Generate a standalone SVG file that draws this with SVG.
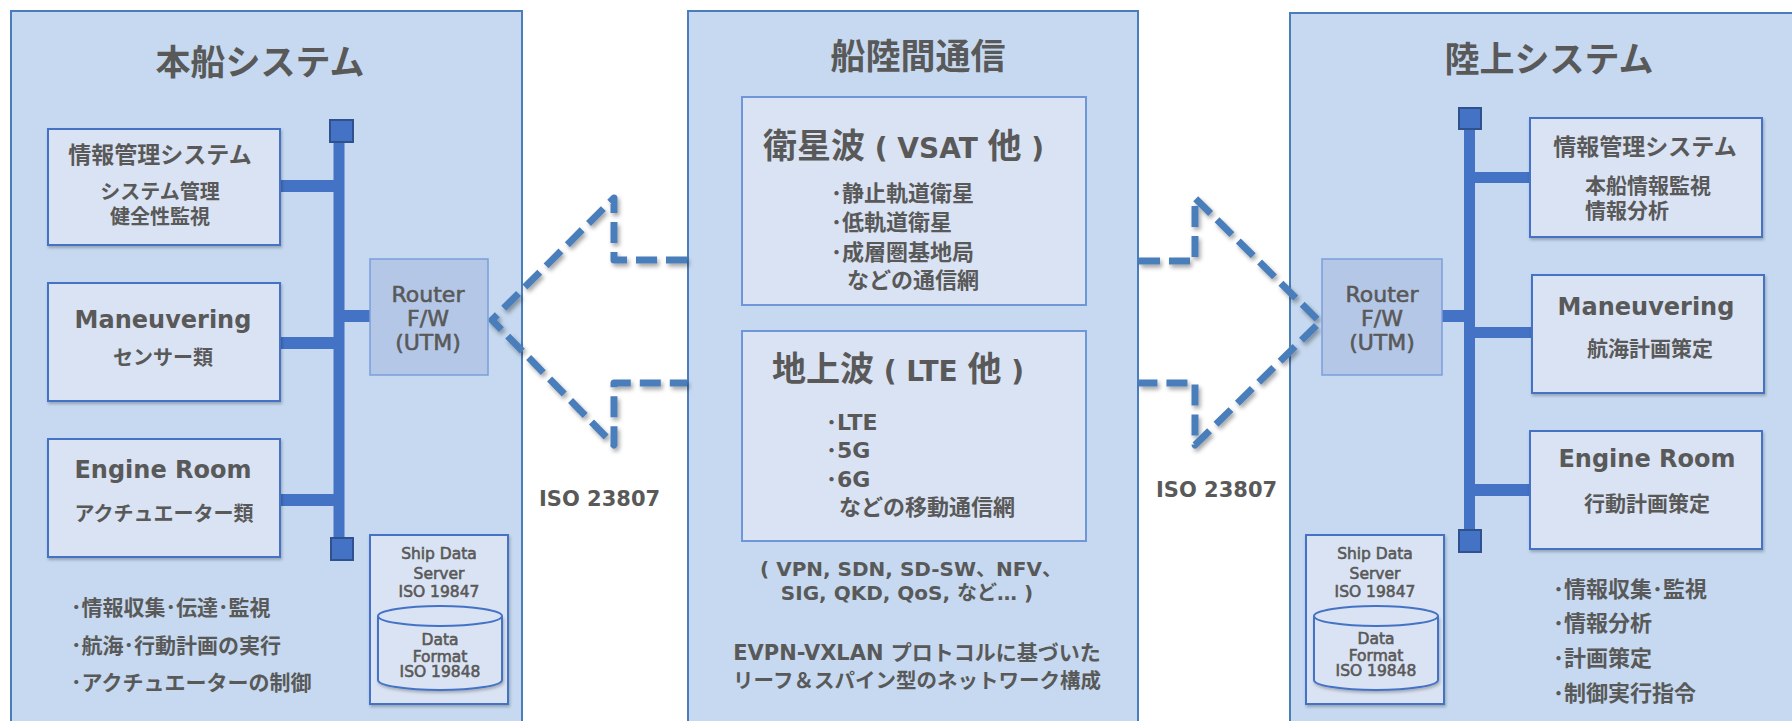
<svg xmlns="http://www.w3.org/2000/svg" width="1792" height="721" viewBox="0 0 1792 721">
<defs>
<filter id="sh" x="-10%" y="-10%" width="130%" height="130%">
<feDropShadow dx="2" dy="3" stdDeviation="2" flood-color="#000" flood-opacity="0.35"/>
</filter>
<filter id="bsh" x="-5%" y="-5%" width="115%" height="115%">
<feDropShadow dx="1" dy="2" stdDeviation="1.5" flood-color="#000" flood-opacity="0.25"/>
</filter>
<style>
.panel{fill:#C6D9F0;stroke:#4A7EBB;stroke-width:2}
.box{fill:#DAE3F3;stroke:#4472C4;stroke-width:2;filter:url(#bsh)}
.sub{fill:#DAE3F3;stroke:#6F96D6;stroke-width:2}
.router{fill:#B4C7E7;stroke:#7B9FDA;stroke-width:1.5}
.bus{fill:#4472C4}
.sq{fill:#4472C4;stroke:#2F528F;stroke-width:2}
.arrow{fill:none;stroke:#4A7EBB;stroke-width:7;stroke-dasharray:21 9;stroke-linejoin:round;filter:url(#sh)}
.cyl{fill:#DAE3F3;stroke:#4472C4;stroke-width:2}
text{fill:#595959}
.jp{font-family:"Noto Sans CJK JP",sans-serif;font-weight:bold}
.lat{font-family:"DejaVu Sans","Noto Sans CJK JP",sans-serif;font-weight:bold}
.latn{font-family:"DejaVu Sans","Noto Sans CJK JP",sans-serif;font-weight:normal;stroke:#595959;stroke-width:0.6}
.c{text-anchor:middle}
</style>
</defs>

<!-- Panels -->
<g id="ship-panel">
<rect class="panel" x="11" y="11" width="511" height="720"/>
<text class="jp c" x="260" y="75" font-size="35">本船システム</text>
</g>
<g id="comm-panel">
<rect class="panel" x="688" y="11" width="450" height="720"/>
<text class="jp c" x="918" y="69" font-size="35">船陸間通信</text>
</g>
<g id="land-panel">
<rect class="panel" x="1290" y="13" width="520" height="720"/>
<text class="jp c" x="1549" y="72" font-size="35">陸上システム</text>
</g>

<!-- Connectors (bus lines and dashed arrows) -->
<g id="connectors">
<rect class="bus" x="333.5" y="131" width="11" height="418"/>
<rect class="bus" x="280" y="180" width="54" height="12"/>
<rect class="bus" x="280" y="337" width="54" height="12"/>
<rect class="bus" x="280" y="494" width="54" height="12"/>
<rect class="bus" x="344" y="310" width="26" height="12"/>
<rect class="sq" x="330" y="120" width="23" height="22"/>
<rect class="sq" x="331" y="538" width="22" height="22"/>

<rect class="bus" x="1464" y="118" width="11" height="420"/>
<rect class="bus" x="1474" y="172" width="56" height="11"/>
<rect class="bus" x="1474" y="327" width="58" height="11"/>
<rect class="bus" x="1474" y="484" width="56" height="12"/>
<rect class="bus" x="1442" y="310" width="23" height="12"/>
<rect class="sq" x="1459" y="108" width="22" height="21"/>
<rect class="sq" x="1459" y="530" width="22" height="22"/>

<path class="arrow" d="M687,260 L614,260 L614,198 L492,320 L614,445 L614,383 L687,383"/>
<path class="arrow" d="M1139,261 L1195,261 L1195,198 L1320,322 L1195,445 L1195,383 L1139,383"/>
</g>

<!-- Ship side nodes -->
<g id="ship-info">
<rect class="box" x="48" y="129" width="232" height="116"/>
<text class="jp c" x="160" y="163" font-size="23">情報管理システム</text>
<text class="jp c" x="160" y="199" font-size="20">システム管理</text>
<text class="jp c" x="160" y="224" font-size="20">健全性監視</text>
</g>
<g id="ship-maneuvering">
<rect class="box" x="48" y="283" width="232" height="118"/>
<text class="lat c" x="163" y="328" font-size="24">Maneuvering</text>
<text class="jp c" x="163" y="365" font-size="20">センサー類</text>
</g>
<g id="ship-engine">
<rect class="box" x="48" y="439" width="232" height="118"/>
<text class="lat c" x="163" y="478" font-size="24">Engine Room</text>
<text class="jp c" x="164" y="521" font-size="20">アクチュエーター類</text>
</g>
<g id="ship-router">
<rect class="router" x="370" y="259" width="118" height="116"/>
<text class="latn c" x="428" y="302" font-size="22">Router</text>
<text class="latn c" x="428" y="326" font-size="22">F/W</text>
<text class="latn c" x="428" y="350" font-size="22">(UTM)</text>
</g>
<g id="ship-data-server">
<rect class="box" x="370" y="535" width="138" height="169"/>
<text class="latn c" x="439" y="559" font-size="15.5">Ship Data</text>
<text class="latn c" x="439" y="579" font-size="15.5">Server</text>
<text class="latn c" x="439" y="597" font-size="15.5">ISO 19847</text>
<path class="cyl" d="M378,616 L378,680 A62,10 0 0 0 502,680 L502,616" filter="url(#bsh)"/>
<ellipse class="cyl" cx="440" cy="616" rx="62" ry="10" fill="#E4EBF6"/>
<text class="latn c" x="440" y="645" font-size="15.5">Data</text>
<text class="latn c" x="440" y="662" font-size="15.5">Format</text>
<text class="latn c" x="440" y="677" font-size="15.5">ISO 19848</text>
</g>
<g id="ship-tasks">
<text class="jp" x="71" y="615" font-size="21">･情報収集･伝達･監視</text>
<text class="jp" x="71" y="653" font-size="21">･航海･行動計画の実行</text>
<text class="jp" x="71" y="690" font-size="21">･アクチュエーターの制御</text>
</g>
<g id="iso-left">
<text class="lat" x="539" y="506" font-size="21">ISO 23807</text>
</g>

<!-- Communication nodes -->
<g id="satellite">
<rect class="sub" x="742" y="97" width="344" height="208"/>
<text x="763" y="158"><tspan class="jp" font-size="34">衛星波</tspan><tspan class="lat" font-size="28"> ( VSAT </tspan><tspan class="jp" font-size="34">他</tspan><tspan class="lat" font-size="28"> )</tspan></text>
<text class="jp" x="831" y="201" font-size="22">･静止軌道衛星</text>
<text class="jp" x="831" y="230" font-size="22">･低軌道衛星</text>
<text class="jp" x="831" y="260" font-size="22">･成層圏基地局</text>
<text class="jp" x="847" y="288" font-size="22">などの通信網</text>
</g>
<g id="terrestrial">
<rect class="sub" x="742" y="331" width="344" height="210"/>
<text x="772" y="381"><tspan class="jp" font-size="34">地上波</tspan><tspan class="lat" font-size="28"> ( LTE </tspan><tspan class="jp" font-size="34">他</tspan><tspan class="lat" font-size="28"> )</tspan></text>
<text class="lat" x="826" y="430" font-size="22">･LTE</text>
<text class="lat" x="826" y="458" font-size="22">･5G</text>
<text class="lat" x="826" y="487" font-size="22">･6G</text>
<text class="jp" x="839" y="515" font-size="22">などの移動通信網</text>
</g>
<g id="comm-tech">
<text class="lat c" x="911" y="576" font-size="20">( VPN, SDN, SD-SW、NFV、</text>
<text class="lat c" x="907" y="600" font-size="20">SIG, QKD, QoS, など… )</text>
<text class="lat c" x="917" y="660" font-size="21">EVPN-VXLAN プロトコルに基づいた</text>
<text class="jp c" x="917" y="688" font-size="20.5">リーフ＆スパイン型のネットワーク構成</text>
</g>

<!-- Land side nodes -->
<g id="land-info">
<rect class="box" x="1530" y="118" width="232" height="119"/>
<text class="jp c" x="1645" y="155" font-size="23">情報管理システム</text>
<text class="jp" x="1585" y="193" font-size="21">本船情報監視</text>
<text class="jp" x="1585" y="218" font-size="21">情報分析</text>
</g>
<g id="land-maneuvering">
<rect class="box" x="1532" y="275" width="232" height="118"/>
<text class="lat c" x="1646" y="315" font-size="24">Maneuvering</text>
<text class="jp c" x="1650" y="356" font-size="21">航海計画策定</text>
</g>
<g id="land-engine">
<rect class="box" x="1530" y="431" width="232" height="118"/>
<text class="lat c" x="1647" y="467" font-size="24">Engine Room</text>
<text class="jp c" x="1647" y="511" font-size="21">行動計画策定</text>
</g>
<g id="land-router">
<rect class="router" x="1322" y="259" width="120" height="116"/>
<text class="latn c" x="1382" y="302" font-size="22">Router</text>
<text class="latn c" x="1382" y="326" font-size="22">F/W</text>
<text class="latn c" x="1382" y="350" font-size="22">(UTM)</text>
</g>
<g id="land-data-server">
<rect class="box" x="1306" y="535" width="138" height="169"/>
<text class="latn c" x="1375" y="559" font-size="15.5">Ship Data</text>
<text class="latn c" x="1375" y="579" font-size="15.5">Server</text>
<text class="latn c" x="1375" y="597" font-size="15.5">ISO 19847</text>
<path class="cyl" d="M1314,616 L1314,680 A62,10 0 0 0 1438,680 L1438,616" filter="url(#bsh)"/>
<ellipse class="cyl" cx="1376" cy="616" rx="62" ry="10" fill="#E4EBF6"/>
<text class="latn c" x="1376" y="644" font-size="15.5">Data</text>
<text class="latn c" x="1376" y="661" font-size="15.5">Format</text>
<text class="latn c" x="1376" y="676" font-size="15.5">ISO 19848</text>
</g>
<g id="land-tasks">
<text class="jp" x="1553" y="597" font-size="22">･情報収集･監視</text>
<text class="jp" x="1553" y="631" font-size="22">･情報分析</text>
<text class="jp" x="1553" y="666" font-size="22">･計画策定</text>
<text class="jp" x="1553" y="701" font-size="22">･制御実行指令</text>
</g>
<g id="iso-right">
<text class="lat" x="1156" y="497" font-size="21">ISO 23807</text>
</g>
</svg>
